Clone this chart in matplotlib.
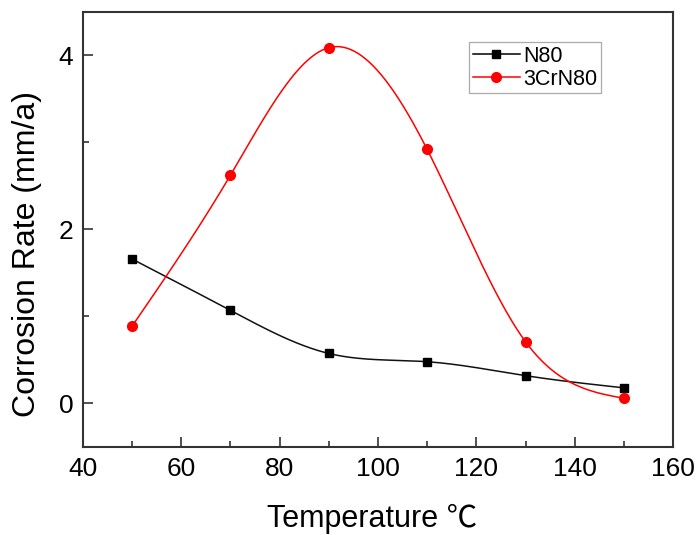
import numpy as np
import matplotlib
matplotlib.use("Agg")
import matplotlib.pyplot as plt

temps = [50, 70, 90, 110, 130, 150]
n80 = [1.66, 1.07, 0.575, 0.48, 0.32, 0.18]
cr3n80 = [0.89, 2.625, 4.09, 2.92, 0.71, 0.06]
x_ticks = [40, 60, 80, 100, 120, 140, 160]
y_ticks = [0, 2, 4]


def natural_spline(x, y, xs):
    x = np.asarray(x, float); y = np.asarray(y, float)
    n = len(x)
    h = np.diff(x)
    A = np.zeros((n, n)); b = np.zeros(n)
    A[0, 0] = 1; A[-1, -1] = 1
    for i in range(1, n - 1):
        A[i, i - 1] = h[i - 1]
        A[i, i] = 2 * (h[i - 1] + h[i])
        A[i, i + 1] = h[i]
        b[i] = 3 * ((y[i + 1] - y[i]) / h[i] - (y[i] - y[i - 1]) / h[i - 1])
    c = np.linalg.solve(A, b)
    bb = (y[1:] - y[:-1]) / h - h * (2 * c[:-1] + c[1:]) / 3
    d = (c[1:] - c[:-1]) / (3 * h)
    idx = np.clip(np.searchsorted(x, xs) - 1, 0, n - 2)
    dx = xs - x[idx]
    return y[idx] + bb[idx] * dx + c[idx] * dx ** 2 + d[idx] * dx ** 3


plt.rcParams['font.family'] = ['Liberation Sans', 'Noto Sans CJK SC', 'DejaVu Sans']

fig = plt.figure(figsize=(6.98, 5.35), dpi=100)
ax = fig.add_axes([0.1189, 0.1645, 0.8453, 0.8131])

xs = np.linspace(min(temps), max(temps), 400)
ax.plot(xs, natural_spline(temps, n80, xs), color='#111111', lw=1.1)
ax.plot(xs, natural_spline(temps, cr3n80, xs), color='red', lw=1.1)
ax.plot(temps, n80, 's', color='black', ms=6.2)
ax.plot(temps, cr3n80, 'o', color='red', ms=7)

# legend handles
h1, = ax.plot([], [], '-s', color='black', lw=1.1, ms=6.2, label='N80')
h2, = ax.plot([], [], '-o', color='red', lw=1.1, ms=7, label='3CrN80')
leg = ax.legend(handles=[h1, h2], loc='upper left', bbox_to_anchor=(0.655, 0.93),
                fontsize=15.5, frameon=True, fancybox=False, edgecolor='#aaaaaa',
                borderpad=0.15, handlelength=2.2, handletextpad=0.15, labelspacing=0.1,
                borderaxespad=0, framealpha=1)
leg.get_frame().set_linewidth(0.9)

ax.set_xlim(40, 160)
ax.set_ylim(-0.5, 4.5)
ax.set_xticks(x_ticks)
ax.set_yticks(y_ticks)
ax.set_xticks(np.arange(50, 160, 20), minor=True)
ax.set_yticks([1, 3], minor=True)
ax.tick_params(which='both', direction='in', top=False, right=False, labelsize=19,
               color='#333333', width=1.2)
ax.tick_params(which='major', length=7, pad=7)
ax.tick_params(which='minor', length=4)
for s in ax.spines.values():
    s.set_linewidth(1.5)
    s.set_color('#333333')

fig.text(372.5 / 698, 8 / 535, 'Temperature ℃', fontsize=22, ha='center', va='baseline')
fig.text(27.5 / 698, 1 - 254 / 535, 'Corrosion Rate (mm/a)', fontsize=23,
         rotation=90, ha='center', va='center')

fig.savefig('out.png', dpi=100)
